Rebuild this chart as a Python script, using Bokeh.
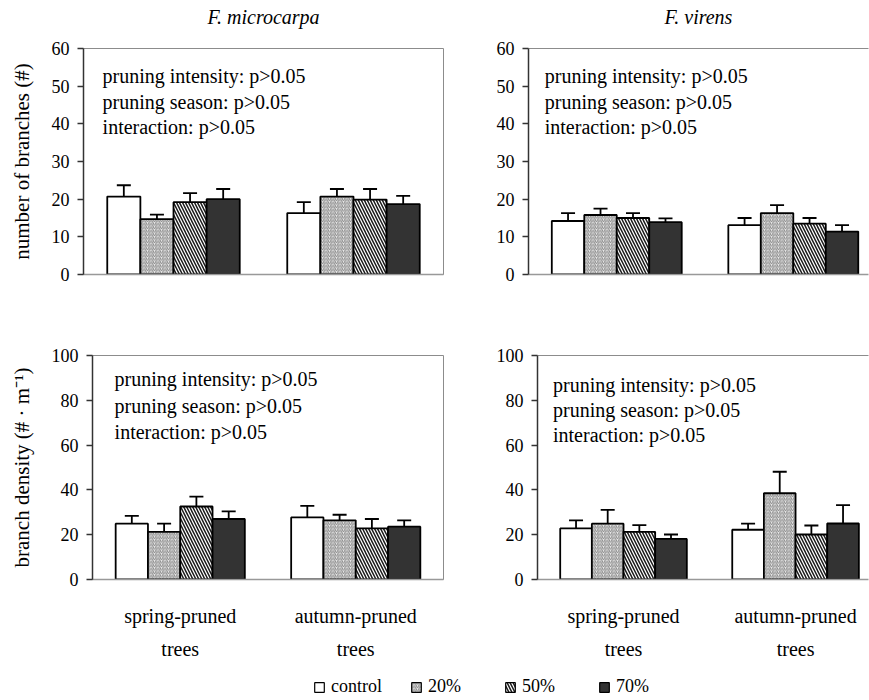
from bokeh.plotting import figure
from bokeh.layouts import column, row
from bokeh.models import (Range1d, FixedTicker, LinearAxis, Whisker, TeeHead,
                          ColumnDataSource, Label, Legend, LegendItem)
from bokeh.core.properties import value
from bokeh.embed import file_html
from bokeh.resources import INLINE

FONT = "Liberation Serif"

# ---------------- data ----------------
seasons = ["spring-pruned", "autumn-pruned"]
season_line2 = ["trees", "trees"]
levels = ["control", "20%", "50%", "70%"]

# F. microcarpa - number of branches (#)
mic_num_spring = [20.7, 14.7, 19.2, 20.0]
mic_num_spring_se = [3.0, 1.2, 2.4, 2.7]
mic_num_autumn = [16.3, 20.7, 19.9, 18.7]
mic_num_autumn_se = [2.9, 2.0, 2.8, 2.2]

# F. virens - number of branches (#)
vir_num_spring = [14.2, 15.8, 15.0, 13.9]
vir_num_spring_se = [2.1, 1.7, 1.3, 1.0]
vir_num_autumn = [13.1, 16.3, 13.5, 11.4]
vir_num_autumn_se = [1.9, 2.1, 1.5, 1.7]

# F. microcarpa - branch density (# . m-1)
mic_den_spring = [24.9, 21.3, 32.6, 27.0]
mic_den_spring_se = [3.5, 3.6, 4.4, 3.4]
mic_den_autumn = [27.7, 26.4, 22.8, 23.6]
mic_den_autumn_se = [5.2, 2.5, 4.2, 2.8]

# F. virens - branch density (# . m-1)
vir_den_spring = [22.8, 24.9, 21.3, 18.1]
vir_den_spring_se = [3.6, 6.2, 3.0, 2.0]
vir_den_autumn = [22.2, 38.5, 20.1, 25.0]
vir_den_autumn_se = [2.7, 9.6, 4.0, 8.2]

num_ticks = [0, 10, 20, 30, 40, 50, 60]
den_ticks = [0, 20, 40, 60, 80, 100]
stats_lines = ["pruning intensity: p>0.05", "pruning season: p>0.05", "interaction: p>0.05"]

titles = ["F. microcarpa", "F. virens"]
ylabels = ["number of branches (#)", "branch density (# \u00b7 m\u207b\u00b9)"]

# ---------------- styles ----------------
styles = {
    "control": dict(fill_color="white"),
    "20%": dict(fill_color="#ebebeb", hatch_pattern="/", hatch_color="#808080",
                hatch_scale=3.5, hatch_weight=0.9),
    "50%": dict(fill_color="white", hatch_pattern="\\", hatch_color="#1a1a1a",
                hatch_scale=6, hatch_weight=1.5),
    "70%": dict(fill_color="#333333"),
}
BAR_W = 0.184
centers = [0.5, 1.5]


def title_strip(text, fw, bl, br, x_end):
    s = figure(width=fw, height=40, x_range=Range1d(0, x_end), y_range=Range1d(0, 1),
               output_backend="svg", toolbar_location=None, x_axis_type=None, y_axis_type=None,
               min_border_left=bl, min_border_right=br, min_border_top=0, min_border_bottom=0,
               outline_line_color=None)
    s.grid.visible = False
    s.add_layout(Label(x=x_end / 2, y=0.6, text=text, text_font=FONT,
                       text_font_size="20px", text_font_style="italic",
                       text_color="black", text_baseline="middle", text_align="center"))
    return s


def panel(spring, spring_se, autumn, autumn_se, y_end, ticks, fw, fh, bl, br, bt, bb,
          x_end, text_x, text_y, ylabel=None, cats=False, right_side=False):
    p = figure(width=fw, height=fh, x_range=Range1d(0, x_end), y_range=Range1d(0, y_end),
               output_backend="svg", toolbar_location=None,
               min_border_left=bl, min_border_right=br, min_border_top=bt, min_border_bottom=bb)
    p.grid.visible = False
    p.background_fill_color = "white"
    p.border_fill_color = "white"

    for j, lev in enumerate(levels):
        xs = [c + (j - 1.5) * BAR_W for c in centers]
        tops = [spring[j], autumn[j]]
        ses = [spring_se[j], autumn_se[j]]
        src = ColumnDataSource(dict(x=xs, top=tops, upper=[t + s for t, s in zip(tops, ses)]))
        p.vbar(x="x", top="top", bottom=0, width=BAR_W, source=src,
               line_color="black", line_width=1.8, **styles[lev])
        p.add_layout(Whisker(base="x", lower="top", upper="upper", source=src,
                             upper_head=TeeHead(size=14, line_width=1.8, line_color="black"),
                             lower_head=None, line_width=1.8, line_color="black"))

    # y axis
    ya = p.left[0]
    ya.ticker = FixedTicker(ticks=ticks)
    ya.major_label_text_font = FONT
    ya.major_label_text_font_size = "18px"
    ya.major_label_text_color = "black"
    ya.major_tick_out = 6
    ya.major_tick_in = 0
    ya.minor_tick_out = 0
    ya.minor_tick_in = 0
    ya.axis_line_color = "#333333"
    ya.axis_line_width = 1.5
    ya.major_tick_line_color = "#333333"
    ya.major_tick_line_width = 1.5
    ya.major_label_standoff = 8
    if ylabel:
        ya.axis_label = ylabel
        ya.axis_label_text_font = FONT
        ya.axis_label_text_font_size = "21px"
        ya.axis_label_text_font_style = "normal"
        ya.axis_label_text_color = "black"
        ya.axis_label_standoff = 15

    # x axis
    xa = p.below[0]
    xa.ticker = FixedTicker(ticks=centers if cats else [])
    xa.axis_line_color = "#999999"
    xa.axis_line_width = 1.5
    xa.major_tick_line_color = None
    xa.minor_tick_line_color = None
    xa.major_tick_out = 0
    xa.major_tick_in = 0
    xa.minor_tick_out = 0
    xa.minor_tick_in = 0
    if cats:
        xa.major_label_overrides = {c: s for c, s in zip(centers, seasons)}
        xa.major_label_text_font = FONT
        xa.major_label_text_font_size = "20px"
        xa.major_label_text_color = "black"
        xa.major_label_standoff = 25
        xa2 = LinearAxis(ticker=FixedTicker(ticks=centers),
                         major_label_overrides={c: s for c, s in zip(centers, season_line2)},
                         major_label_text_font=FONT, major_label_text_font_size="20px",
                         major_label_text_color="black", major_label_standoff=8,
                         axis_line_color=None, major_tick_line_color=None,
                         minor_tick_line_color=None,
                         major_tick_out=0, major_tick_in=0, minor_tick_out=0, minor_tick_in=0)
        p.add_layout(xa2, "below")
    else:
        xa.major_label_text_font_size = "0px"

    if right_side:
        # frame runs past the window edge in the original: top line only
        p.outline_line_color = None
        top_ax = LinearAxis(ticker=FixedTicker(ticks=[]), axis_line_color="#8c8c8c",
                            axis_line_width=1, major_label_text_font_size="0px",
                            major_tick_line_color=None, minor_tick_line_color=None,
                            major_tick_out=0, major_tick_in=0, minor_tick_out=0, minor_tick_in=0)
        p.add_layout(top_ax, "above")
    else:
        p.outline_line_color = "#8c8c8c"
        p.outline_line_width = 1

    for k, line in enumerate(stats_lines):
        p.add_layout(Label(x=text_x, y=text_y[k], text=line, text_font=FONT,
                           text_font_size="20px", text_color="black",
                           text_baseline="middle", text_align="left"))
    return p


tl_title = title_strip(titles[0], 470, 83, 27, 2.0)
tr_title = title_strip(titles[1], 399, 58, 1, 1.926)
tl = panel(mic_num_spring, mic_num_spring_se, mic_num_autumn, mic_num_autumn_se,
           60, num_ticks, 470, 254, 83, 27, 8, 20, 2.0, 0.106, [52.6, 45.9, 39.2],
           ylabel=ylabels[0])
tr = panel(vir_num_spring, vir_num_spring_se, vir_num_autumn, vir_num_autumn_se,
           60, num_ticks, 399, 254, 58, 1, 8, 20, 1.926, 0.092, [52.6, 45.9, 39.2],
           right_side=True)
bl_ = panel(mic_den_spring, mic_den_spring_se, mic_den_autumn, mic_den_autumn_se,
            100, den_ticks, 470, 378, 92, 27, 61, 93, 2.0, 0.126, [89.3, 77.6, 65.9],
            ylabel=ylabels[1], cats=True)
br_ = panel(vir_den_spring, vir_den_spring_se, vir_den_autumn, vir_den_autumn_se,
            100, den_ticks, 399, 378, 67, 1, 61, 93, 1.924, 0.090, [86.8, 75.6, 64.6],
            cats=True, right_side=True)

# legend strip (hidden proxy renderers, one per pruning level)
leg = figure(width=869, height=28, x_range=Range1d(0, 2), y_range=Range1d(0, 60),
             output_backend="svg", toolbar_location=None, x_axis_type=None, y_axis_type=None,
             min_border=0, outline_line_color=None)
leg.grid.visible = False
items = []
for j, lev in enumerate(levels):
    r = leg.vbar(x=[centers[0]], top=[mic_num_spring[j]], width=BAR_W,
                 line_color="black", line_width=1.2, **styles[lev])
    r.visible = False
    items.append(LegendItem(label=value(lev), renderers=[r]))
legend = Legend(items=items, orientation="horizontal", location=(313, 3),
                label_text_font=FONT, label_text_font_size="18px", label_text_color="black",
                glyph_width=12, glyph_height=12, label_standoff=6, spacing=28,
                padding=0, margin=0, border_line_color=None, background_fill_alpha=0,
                inactive_fill_alpha=0, label_height=20, label_width=48)
leg.add_layout(legend)

layout = column(row(column(tl_title, tl), column(tr_title, tr)), row(bl_, br_), leg)
open("out.html", "w").write(file_html(layout, INLINE))
